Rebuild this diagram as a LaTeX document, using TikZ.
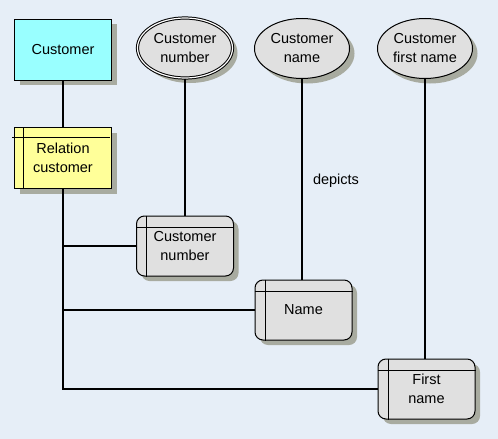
\documentclass[tikz,border=0pt]{standalone}
\usepackage{fontspec}
\setmainfont{Liberation Sans}
\usetikzlibrary{shapes.geometric,shadows}

\definecolor{bgblue}{RGB}{230,238,247}
\definecolor{entcyan}{RGB}{153,255,255}
\definecolor{relyellow}{RGB}{255,255,153}
\definecolor{attrgray}{RGB}{224,224,224}
\definecolor{shadowgray}{RGB}{168,171,160}

\begin{document}
\begin{tikzpicture}[x=1pt, y=-1pt,
  every node/.style={font=\fontsize{14.5}{19}\selectfont, align=center, inner sep=0pt},
  boxshadow/.style={drop shadow={shadow xshift=5pt, shadow yshift=-5pt, fill=shadowgray, opacity=1}},
  ent/.style={draw, line width=1pt, boxshadow, minimum width=97pt, minimum height=61pt},
  attr/.style={ellipse, draw, line width=1pt, fill=attrgray, boxshadow, minimum width=95pt, minimum height=60pt},
  tab/.style={draw, line width=1pt, rounded corners=8pt, fill=attrgray, boxshadow, minimum width=97pt, minimum height=60pt},
  link/.style={line width=2pt}
]
  % fond
  \fill[bgblue] (0,0) rectangle (498,439);

  % entites
  \node[ent, fill=entcyan] (cust) at (63,49.5) {Customer};
  \node[ent, fill=relyellow] (rel) at (63,158) {Relation\\customer};
  \draw[line width=1pt] ([xshift=9pt]rel.north west) -- ([xshift=9pt]rel.south west);
  \draw[line width=1pt] ([xshift=-2pt,yshift=-10pt]rel.north west) -- ([xshift=-2pt,yshift=-10pt]rel.north east);

  % attributs
  \node[attr, double=white, double distance=1.2pt] (cnumAttr) at (185,48) {Customer\\number};
  \node[attr] (nameAttr) at (302,48.5) {Customer\\name};
  \node[attr] (firstAttr) at (425,48.5) {Customer\\first name};

  % tables
  \node[tab] (cnumTab) at (185,246) {Customer\\number};
  \node[tab] (nameTab) at (303.5,310) {Name};
  \node[tab] (firstTab) at (426.5,389) {First\\name};
  \foreach \t in {cnumTab,nameTab,firstTab} {
    \draw[line width=1pt] ([xshift=10.5pt]\t.north west) -- ([xshift=10.5pt]\t.south west);
    \draw[line width=1pt] ([yshift=-12pt]\t.north west) -- ([yshift=-12pt]\t.north east);
  }

  % liens
  \draw[link] (cust) -- (rel);
  \draw[link] (rel.south) |- (cnumTab.west);
  \draw[link] (rel.south) |- (nameTab.west);
  \draw[link] (rel.south) |- (firstTab.west);
  \draw[link] (cnumAttr) -- (cnumTab);
  \draw[link] (nameAttr.south) -- (nameAttr.south |- nameTab.north);
  \draw[link] (firstAttr.south) -- (firstAttr.south |- firstTab.north);
  \node (depicts) at (336,181) {depicts};
\end{tikzpicture}
\end{document}
